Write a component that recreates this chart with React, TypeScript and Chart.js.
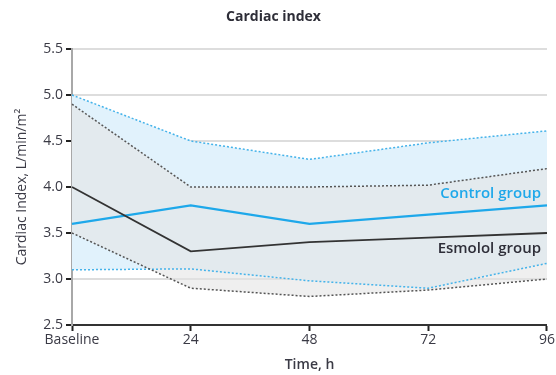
import React, { useEffect, useRef } from "react";
import { Chart, registerables } from "chart.js";

Chart.register(...registerables);

const categories = ["Baseline", "24", "48", "72", "96"];
const controlMean = [3.6, 3.8, 3.6, 3.7, 3.8];
const controlUpper = [5.0, 4.5, 4.3, 4.48, 4.61];
const controlLower = [3.1, 3.11, 2.98, 2.9, 3.17];
const esmololMean = [4.0, 3.3, 3.4, 3.45, 3.5];
const esmololUpper = [4.9, 4.0, 4.0, 4.02, 4.2];
const esmololLower = [3.5, 2.9, 2.81, 2.88, 3.0];
const seriesLabels = { control: "Control group", esmolol: "Esmolol group" };
const labelValues = { control: 3.93, esmolol: 3.33 };

const FONT = "'Open Sans', Lato, sans-serif";
const TEXT = "#3a3a45";
const BLUE = "#1ea8ea";

const inlineLabels = {
  id: "inlineLabels",
  afterDatasetsDraw(chart: any) {
    const { ctx, chartArea, scales } = chart;
    ctx.save();
    ctx.font = `600 15px ${FONT}`;
    ctx.textAlign = "right";
    ctx.textBaseline = "middle";
    ctx.fillStyle = BLUE;
    ctx.fillText(seriesLabels.control, chartArea.right - 6, scales.y.getPixelForValue(labelValues.control));
    ctx.fillStyle = "#2e2e38";
    ctx.fillText(seriesLabels.esmolol, chartArea.right - 6, scales.y.getPixelForValue(labelValues.esmolol));
    ctx.restore();
  },
};

export default function App() {
  const ref = useRef<HTMLCanvasElement>(null);
  useEffect(() => {
    if (!ref.current) return;
    const band = (data: number[], color: string, fill: any, bg: string, order: number) => ({
      data,
      borderColor: color,
      borderWidth: 1.5,
      borderDash: [2, 2],
      pointRadius: 0,
      fill,
      backgroundColor: bg,
      order,
      tension: 0,
    });
    const chart = new Chart(ref.current, {
      type: "line",
      data: {
        labels: categories,
        datasets: [
          { data: esmololMean, borderColor: "#333333", borderWidth: 1.8, pointRadius: 0, fill: false, order: 0 },
          { data: controlMean, borderColor: BLUE, borderWidth: 2.2, pointRadius: 0, fill: false, order: 0 },
          band(esmololUpper, "#555555", "+1", "rgba(228,228,228,0.6)", 1),
          band(esmololLower, "#555555", false, "transparent", 1),
          band(controlUpper, "#45b3ea", "+1", "#e1f2fc", 2),
          band(controlLower, "#45b3ea", false, "transparent", 2),
        ] as any,
      },
      options: {
        animation: false,
        responsive: true,
        maintainAspectRatio: false,
        layout: { padding: { left: 0, right: 9, top: 0, bottom: 0 } },
        plugins: {
          legend: { display: false },
          tooltip: { enabled: false },
          filler: { drawTime: "beforeDatasetsDraw" } as any,
          title: {
            display: true,
            text: "Cardiac index",
            color: "#2e2e38",
            font: { family: FONT, size: 14, weight: "bold", lineHeight: 1.2 },
            padding: { top: 9, bottom: 23.2 },
          },
        },
        scales: {
          x: {
            type: "category",
            offset: false,
            grid: { drawOnChartArea: false, drawTicks: true, tickLength: 6, tickColor: "#222", tickWidth: 2 } as any,
            border: { display: true, color: "#333", width: 2 },
            ticks: { color: TEXT, font: { family: FONT, size: 14 }, padding: 1, maxRotation: 0, autoSkip: false },
            title: { display: true, text: "Time, h", color: TEXT, font: { family: FONT, size: 14, weight: "600" }, padding: { top: 4, bottom: 2 } },
            afterFit: (s: any) => { s.height = 50; },
          },
          y: {
            min: 2.5,
            max: 5.5,
            ticks: {
              stepSize: 0.5,
              color: TEXT,
              font: { family: FONT, size: 14 },
              padding: 3,
              callback: (v: any) => Number(v).toFixed(1),
            },
            grid: { color: "#dddddd", lineWidth: 2, tickLength: 6, tickColor: "#222", tickWidth: 2 } as any,
            border: { display: true, color: "#a8a8a8", width: 2 },
            title: { display: true, text: "Cardiac Index, L/min/m²", color: TEXT, font: { family: FONT, size: 14 }, padding: { top: 14, bottom: 4 } },
            afterFit: (s: any) => { s.width = 72; },
          },
        },
      },
      plugins: [inlineLabels],
    });
    return () => chart.destroy();
  }, []);
  return (
    <div style={{ position: "fixed", left: 0, top: 0, width: 556, height: 375, background: "#fff" }}>
      <canvas ref={ref} />
    </div>
  );
}
